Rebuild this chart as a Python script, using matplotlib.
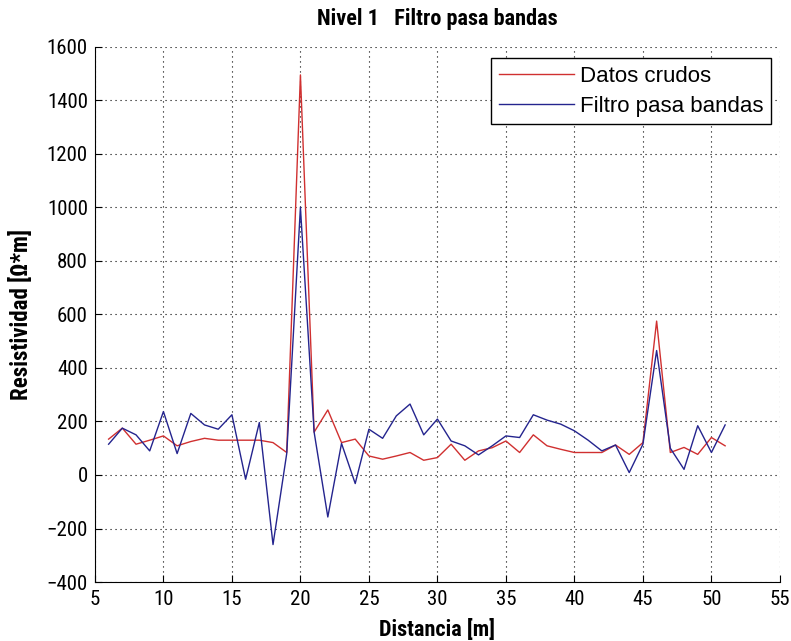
import matplotlib
matplotlib.use("Agg")
import matplotlib.pyplot as plt
from matplotlib import font_manager as fm

# ---- pick a narrow/condensed sans font if one is installed ----
_stretch_map = {'ultra-condensed': 100, 'extra-condensed': 200, 'condensed': 300,
                'semi-condensed': 400, 'normal': 500}
def _stretch_val(s):
    if isinstance(s, (int, float)):
        return int(s)
    return _stretch_map.get(str(s), 500)

_font_family = 'Liberation Sans'
_font_stretch = 'normal'
_prefs = ['Liberation Sans Narrow', 'Arial Narrow', 'Roboto Condensed',
          'DejaVu Sans', 'Noto Sans', 'Open Sans', 'Roboto', 'Liberation Sans']
_found = {}
for f in fm.fontManager.ttflist:
    sv = _stretch_val(f.stretch)
    narrow_name = ('Narrow' in f.name) or ('Condensed' in f.name)
    if sv <= 400 or narrow_name:
        _found.setdefault(f.name, set()).add(sv)
for p in _prefs:
    if p in _found:
        _font_family = p
        sv = min(_found[p])
        _font_stretch = {100: 'ultra-condensed', 200: 'extra-condensed', 300: 'condensed',
                         400: 'semi-condensed'}.get(sv, 'normal')
        break
NARROW = _font_family != 'Liberation Sans'

plt.rcParams['font.family'] = [_font_family, 'DejaVu Sans']
plt.rcParams['font.stretch'] = _font_stretch

# ---- data ----
distancia = list(range(6, 52))
datos_crudos = [134, 175, 115, 130, 146, 109, 125, 137, 130, 130,
                130, 130, 121, 84, 1495, 160, 243, 121, 134, 71,
                59, 71, 84, 55, 65, 115, 55, 90, 102, 127,
                84, 150, 109, 96, 84, 84, 84, 112, 77, 121,
                575, 84, 103, 77, 140, 109]
filtro = [115, 175, 150, 90, 237, 80, 230, 187, 171, 225,
          -16, 196, -260, 80, 1000, 160, -157, 118, -32, 171,
          137, 221, 265, 150, 209, 127, 109, 75, 109, 146,
          140, 225, 205, 190, 165, 130, 90, 112, 9, 115,
          465, 100, 21, 184, 84, 187]

xticks = list(range(5, 56, 5))
yticks = list(range(-400, 1601, 200))

tick_fs = 15 if NARROW else 12.5
lab_fs = 16 if NARROW else 13.5

fig = plt.figure(figsize=(7.91, 6.41), dpi=100)
ax = fig.add_axes([0.120, 0.092, 0.866, 0.835])

ax.plot(distancia, datos_crudos, color='#d03030', lw=1.0, label='Datos crudos')
ax.plot(distancia, filtro, color='#24248e', lw=1.0, label='Filtro pasa bandas')

ax.set_xlim(5, 55)
ax.set_ylim(-400, 1600)
ax.set_xticks(xticks)
ax.set_yticks(yticks)
ax.tick_params(direction='in', length=5, labelsize=tick_fs, top=False, right=False)
ax.tick_params(axis='x', pad=6)
ax.tick_params(axis='y', pad=5)
ax.grid(True, color='black', linestyle=(0, (1, 3.5)), linewidth=0.8)
ax.spines['top'].set_visible(False)
ax.spines['right'].set_visible(False)

ax.set_title('Nivel 1   Filtro pasa bandas', fontsize=lab_fs, fontweight='bold', pad=16)
ax.set_xlabel('Distancia [m]', fontsize=lab_fs, fontweight='bold')
ax.set_ylabel('Resistividad [\u03a9*m]', fontsize=lab_fs + 0.5, fontweight='bold')
ax.xaxis.set_label_coords(0.5, -0.07)
ax.yaxis.set_label_coords(-0.091, 0.5)

leg = ax.legend(loc='upper right', bbox_to_anchor=(0.987, 0.979), borderaxespad=0,
                prop={'family': ['Liberation Sans', 'DejaVu Sans'], 'size': 16},
                handlelength=3.4, fancybox=False, framealpha=1, edgecolor='black',
                handletextpad=0.25, labelspacing=0.4, borderpad=0.35)
leg.get_frame().set_linewidth(1.0)

fig.savefig('out.png', dpi=100)
